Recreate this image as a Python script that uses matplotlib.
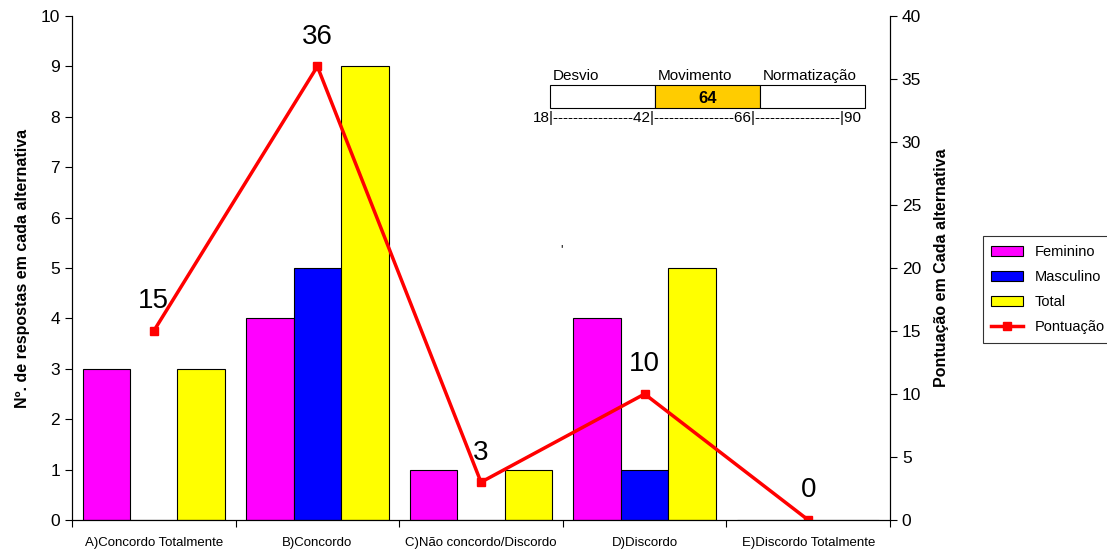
import numpy as np
import matplotlib
matplotlib.use('Agg')
import matplotlib.pyplot as plt
from matplotlib.patches import Rectangle

plt.rcParams['font.family'] = ['Liberation Sans', 'DejaVu Sans']

categorias = ['A)Concordo Totalmente', 'B)Concordo', 'C)Não concordo/Discordo',
              'D)Discordo', 'E)Discordo Totalmente']
feminino = [3, 4, 1, 4, 0]
masculino = [0, 5, 0, 1, 0]
total = [3, 9, 1, 5, 0]
pontuacao = [15, 36, 3, 10, 0]

escala_limites = [18, 42, 66, 90]
escala_nomes = ['Desvio', 'Movimento', 'Normatização']
escore = 64

fig = plt.figure(figsize=(11.07, 5.52), dpi=100)
ax = fig.add_axes([0.065, 0.058, 0.739, 0.913])

x = np.arange(len(categorias))
w = 0.29
ax.bar(x - w, feminino, w, color='#ff00ff', edgecolor='black', linewidth=0.8, label='Feminino')
ax.bar(x, masculino, w, color='#0000ff', edgecolor='black', linewidth=0.8, label='Masculino')
ax.bar(x + w, total, w, color='#ffff00', edgecolor='black', linewidth=0.8, label='Total')

ax.set_xlim(-0.5, len(categorias) - 0.5)
ax.set_ylim(0, 10)
ax.set_yticks(range(0, 11))
ax.set_xticks(np.arange(-0.5, len(categorias), 1.0))
ax.set_xticklabels([])
ax.set_xticks(x, minor=True)
ax.set_xticklabels(categorias, minor=True, fontsize=9.5)
ax.tick_params(axis='x', which='minor', length=0, pad=12)
ax.tick_params(axis='x', which='major', length=5, direction='out')
ax.tick_params(axis='y', labelsize=12.5, direction='out', length=5)
ax.set_ylabel('Nº. de respostas em cada alternativa', fontsize=11.5, fontweight='bold',
              labelpad=8)
ax.spines['top'].set_visible(False)

ax2 = ax.twinx()
ax2.plot(x, pontuacao, color='red', linewidth=2.5, marker='s', markersize=6, label='Pontuação')
ax2.set_ylim(0, 40)
ax2.set_yticks(range(0, 41, 5))
ax2.tick_params(axis='y', labelsize=12.5, direction='out', length=5)
ax2.set_ylabel('Pontuação em Cada alternativa', fontsize=11.5, fontweight='bold',
               labelpad=9)
ax2.spines['top'].set_visible(False)
for xi, p in zip(x, pontuacao):
    ax2.annotate(str(p), (xi, p), xytext=(0, 12), textcoords='offset points',
                 ha='center', va='bottom', fontsize=20)

ax.text(0.597, 0.53, "'", transform=ax.transAxes, fontsize=9)

h1, l1 = ax.get_legend_handles_labels()
h2, l2 = ax2.get_legend_handles_labels()
leg = fig.legend(h1 + h2, l1 + l2, loc='upper left', bbox_to_anchor=(0.881, 0.585),
                 fontsize=10.5, frameon=True, fancybox=False, edgecolor='black',
                 handlelength=2.2, borderpad=0.6, labelspacing=0.75)
leg.get_frame().set_linewidth(0.8)

# escala inserida
ins = fig.add_axes([550 / 1107, 1 - 108 / 552, 315 / 1107, 23 / 552])
ins.set_xlim(escala_limites[0], escala_limites[-1])
ins.set_ylim(0, 1)
ins.axis('off')
for i, nome in enumerate(escala_nomes):
    a, b = escala_limites[i], escala_limites[i + 1]
    cor = '#ffcc00' if a <= escore < b else 'white'
    ins.add_patch(Rectangle((a, 0), b - a, 1, facecolor=cor, edgecolor='black',
                            linewidth=0.8, clip_on=False))
    ins.text(a + 0.6, 1.1, nome, ha='left', va='bottom', fontsize=11)
    if a <= escore < b:
        ins.text((a + b) / 2, 0.42, str(escore), ha='center', va='center',
                 fontsize=12, fontweight='bold')
ins.text(escala_limites[0] - 4, -0.12,
         '18|----------------42|----------------66|-----------------|90',
         ha='left', va='top', fontsize=11)

fig.savefig('out.png', dpi=100)
